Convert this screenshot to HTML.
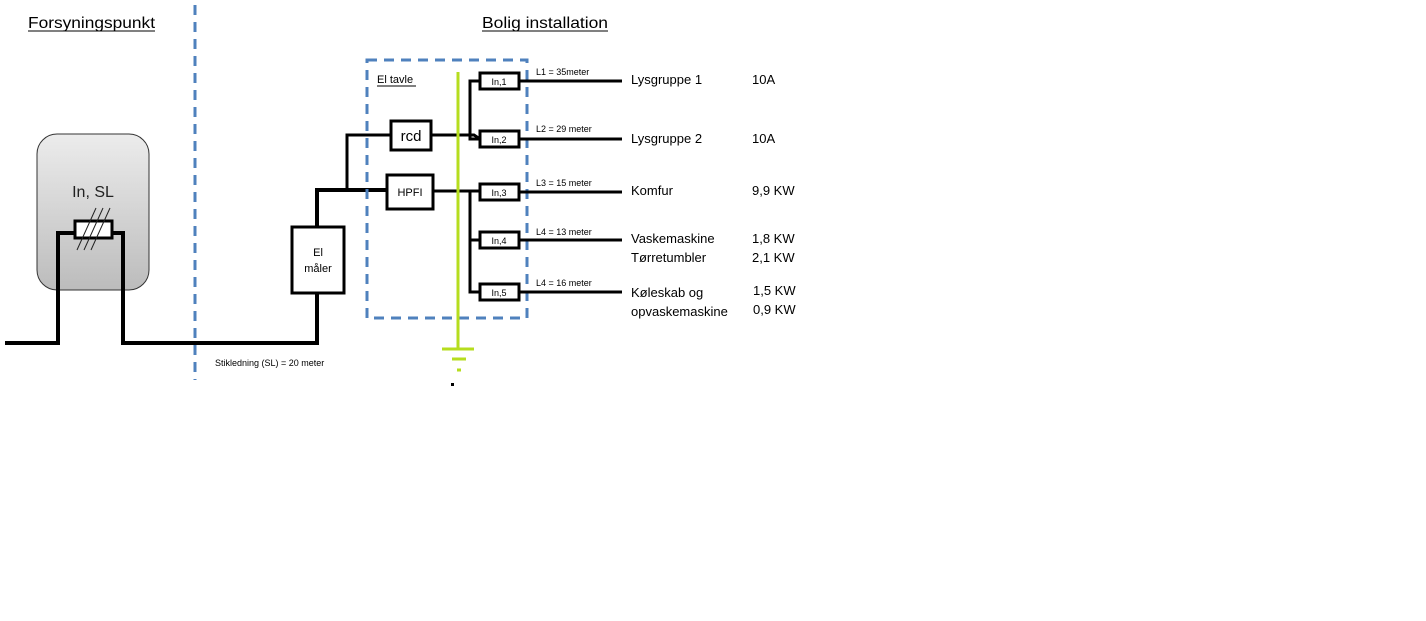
<!DOCTYPE html>
<html><head><meta charset="utf-8"><style>
html,body{margin:0;padding:0;background:#fff;}
svg{display:block;font-family:"Liberation Sans",sans-serif;}
</style></head><body>
<svg width="1426" height="621" viewBox="0 0 1426 621" xmlns="http://www.w3.org/2000/svg">
<defs><linearGradient id="g" x1="0" y1="0" x2="0" y2="1"><stop offset="0" stop-color="#ececec"/><stop offset="1" stop-color="#bcbcbc"/></linearGradient></defs>
<text x="28" y="28" font-size="16" textLength="127" lengthAdjust="spacingAndGlyphs">Forsyningspunkt</text>
<line x1="28" y1="31" x2="155" y2="31" stroke="#000" stroke-width="1"/>
<text x="482" y="28" font-size="16" textLength="126" lengthAdjust="spacingAndGlyphs">Bolig installation</text>
<line x1="482" y1="31" x2="608" y2="31" stroke="#000" stroke-width="1"/>
<line x1="195" y1="5" x2="195" y2="380" stroke="#4f81bd" stroke-width="3" stroke-dasharray="10,7"/>
<rect x="37" y="134" width="112" height="156" rx="20" fill="url(#g)" stroke="#333" stroke-width="1"/>
<text x="93" y="197" font-size="16" text-anchor="middle" fill="#222">In, SL</text>
<polyline points="5,343 58,343 58,233 74,233" fill="none" stroke="#000" stroke-width="4"/>
<polyline points="112,233 123,233 123,343 317,343 317,293" fill="none" stroke="#000" stroke-width="4"/>
<rect x="75" y="221" width="37" height="17" fill="#fff" stroke="#000" stroke-width="3"/>
<g stroke="#222" stroke-width="1"><line x1="77" y1="250" x2="96" y2="208"/><line x1="84" y1="250" x2="103" y2="208"/><line x1="91" y1="250" x2="110" y2="208"/></g>
<rect x="292" y="227" width="52" height="66" fill="#fff" stroke="#000" stroke-width="3"/>
<text x="318" y="256" font-size="11" text-anchor="middle">El</text>
<text x="318" y="272" font-size="11" text-anchor="middle">måler</text>
<text x="215" y="366" font-size="9">Stikledning (SL) = 20 meter</text>
<polyline points="317,227 317,190 387,190" fill="none" stroke="#000" stroke-width="4"/>
<polyline points="347,190 347,135 391,135" fill="none" stroke="#000" stroke-width="3"/>
<rect x="367" y="60" width="160" height="258" fill="none" stroke="#4f81bd" stroke-width="3" stroke-dasharray="10,7"/>
<text x="377" y="83" font-size="11">El tavle</text>
<line x1="377" y1="86" x2="416" y2="86" stroke="#000" stroke-width="1"/>
<rect x="391" y="121" width="40" height="29" fill="#fff" stroke="#000" stroke-width="3"/>
<text x="411" y="141" font-size="15" text-anchor="middle">rcd</text>
<rect x="387" y="175" width="46" height="34" fill="#fff" stroke="#000" stroke-width="3"/>
<text x="410" y="196" font-size="11" text-anchor="middle">HPFI</text>
<polyline points="431,135 474,135 480,139" fill="none" stroke="#000" stroke-width="3"/>
<line x1="433" y1="191" x2="480" y2="191" stroke="#000" stroke-width="3"/>
<polyline points="480,81 470,81 470,139 480,139" fill="none" stroke="#000" stroke-width="3"/>
<polyline points="470,191 470,292 480,292" fill="none" stroke="#000" stroke-width="3"/>
<line x1="470" y1="240" x2="480" y2="240" stroke="#000" stroke-width="3"/>
<line x1="458" y1="72" x2="458" y2="349" stroke="#b6dd1e" stroke-width="3"/>
<line x1="442" y1="349" x2="474" y2="349" stroke="#b6dd1e" stroke-width="3"/>
<line x1="452" y1="359" x2="466" y2="359" stroke="#b6dd1e" stroke-width="3"/>
<line x1="457" y1="370" x2="461" y2="370" stroke="#b6dd1e" stroke-width="3"/>
<rect x="451" y="383" width="3" height="3" fill="#000"/>
<g font-size="9">
<g stroke="#000" stroke-width="3" fill="#fff">
<rect x="480" y="73" width="39" height="16"/><rect x="480" y="131" width="39" height="16"/><rect x="480" y="184" width="39" height="16"/><rect x="480" y="232" width="39" height="16"/><rect x="480" y="284" width="39" height="16"/>
<line x1="519" y1="81" x2="622" y2="81"/><line x1="519" y1="139" x2="622" y2="139"/><line x1="519" y1="192" x2="622" y2="192"/><line x1="519" y1="240" x2="622" y2="240"/><line x1="519" y1="292" x2="622" y2="292"/>
</g>
<text x="499" y="85" text-anchor="middle">In,1</text><text x="499" y="143" text-anchor="middle">In,2</text><text x="499" y="196" text-anchor="middle">In,3</text><text x="499" y="244" text-anchor="middle">In,4</text><text x="499" y="296" text-anchor="middle">In,5</text>
<text x="536" y="75">L1 = 35meter</text><text x="536" y="132">L2 = 29 meter</text><text x="536" y="186">L3 = 15 meter</text><text x="536" y="235">L4 = 13 meter</text><text x="536" y="286">L4  = 16 meter</text>
</g>
<g font-size="13">
<text x="631" y="84">Lysgruppe 1</text><text x="752" y="84">10A</text>
<text x="631" y="143">Lysgruppe 2</text><text x="752" y="143">10A</text>
<text x="631" y="195">Komfur</text><text x="752" y="195">9,9 KW</text>
<text x="631" y="243">Vaskemaskine</text><text x="752" y="243">1,8 KW</text>
<text x="631" y="262">Tørretumbler</text><text x="752" y="262">2,1 KW</text>
<text x="631" y="297">Køleskab og</text><text x="753" y="295">1,5 KW</text>
<text x="631" y="316">opvaskemaskine</text><text x="753" y="314">0,9 KW</text>
</g>
</svg>
</body></html>
